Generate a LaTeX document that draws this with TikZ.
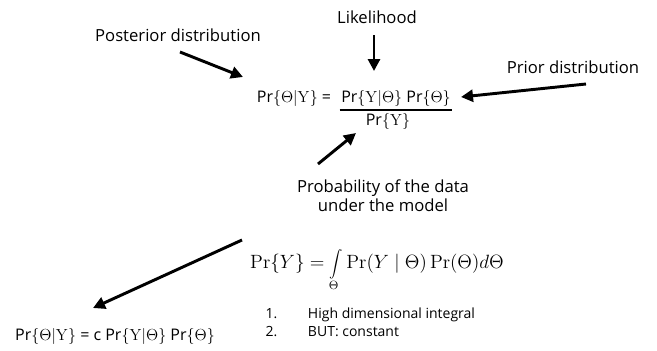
\documentclass[tikz,border=0pt]{standalone}
\usepackage[no-math]{fontspec}
\setmainfont{Open Sans}
\usetikzlibrary{arrows.meta}

\begin{document}
\begin{tikzpicture}[
    x=0.75pt, y=-0.75pt,
    font=\fontsize{12}{14}\selectfont,
    label/.style={inner sep=1pt, align=center, font=\fontsize{12.5}{14.5}\selectfont},
    formula/.style={inner sep=1pt},
    pointer/.style={-{Triangle[length=9pt, width=9pt]}, line width=2.2pt},
]
    \useasboundingbox (0,0) rectangle (657,350);
    \node[label] (post) at (178,35) {Posterior distribution};
    \node[label] (like) at (377,17) {Likelihood};
    \node[label] (prior) at (573,67) {Prior distribution};
    \node[formula] (lhs) at (294,98) {Pr$\{\Theta|\mathrm{Y}\}$ =};
    \node[formula] (num) at (396,98) {Pr$\{\mathrm{Y}|\Theta\}$ Pr$\{\Theta\}$};
    \node[formula] (den) at (388,121) {Pr$\{\mathrm{Y}\}$};
    \draw[line width=1.3pt] ([yshift=-2]num.south west) -- ([yshift=-2]num.south east);
    \node[label] (prob) at (383,196) {Probability of the data\\ under the model};
    \node[formula, font=\fontsize{13.5}{16}\selectfont] (integ) at (377,270)
        {$\displaystyle \Pr\{Y\} = \int\limits_{\Theta} \Pr(Y \mid \Theta)\Pr(\Theta) d\Theta$};
    \node[formula] (result) at (115,336) {Pr$\{\Theta|\mathrm{Y}\}$ = c Pr$\{\mathrm{Y}|\Theta\}$ Pr$\{\Theta\}$};
    \node[inner sep=1pt, align=left, anchor=west, font=\fontsize{10.5}{13}\selectfont] (notes) at (264,324)
        {\begin{tabular}{@{}l@{\hspace{23pt}}l@{}}1. & High dimensional integral\\[0pt] 2. & BUT: constant\end{tabular}};
    \coordinate (postTail) at (180,52);
    \coordinate (postTip) at (243,77);
    \coordinate (likeTail) at (374,35);
    \coordinate (likeTip) at (374,71);
    \coordinate (priorTail) at (586,84);
    \coordinate (priorTip) at (461,97);
    \coordinate (probTail) at (318,164);
    \coordinate (probTip) at (356,133);
    \coordinate (resultTail) at (242,240);
    \coordinate (resultTip) at (93,308);
    \draw[pointer] (postTail) -- (postTip);
    \draw[pointer] (likeTail) -- (likeTip);
    \draw[pointer] (priorTail) -- (priorTip);
    \draw[pointer] (probTail) -- (probTip);
    \draw[pointer] (resultTail) -- (resultTip);
\end{tikzpicture}
\end{document}
